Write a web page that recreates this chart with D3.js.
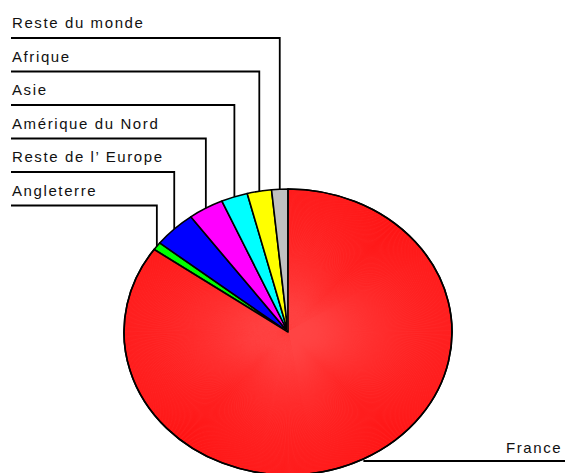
<!DOCTYPE html>
<html>
<head>
<meta charset="utf-8">
<script src="https://cdn.jsdelivr.net/npm/d3@7"></script>
<style>
  html, body { margin: 0; padding: 0; background: #fff; }
  svg { display: block; }
  text { font-family: "Liberation Sans", Arial, sans-serif; font-size: 15px; letter-spacing: 1.6px; fill: #111; }
</style>
</head>
<body>
<svg id="chart" width="565" height="473"></svg>
<script>
// Répartition par région (en %)
const regions = ["France", "Angleterre", "Reste de l\u2019 Europe", "Amérique du Nord", "Asie", "Afrique", "Reste du monde"];
const parts = [84.8, 0.9, 4.2, 3.5, 2.6, 2.4, 1.6];
const colors = ["#ff0000", "#00ff00", "#0000ff", "#ff00ff", "#00ffff", "#ffff00", "#c0c0c0"];

const svg = d3.select("#chart");
const cx = 288, cy = 332, rx = 164, ry = 143;

const data = regions.map((name, i) => ({ name, value: parts[i], color: colors[i] }));
const pie = d3.pie().sort(null).value(d => d.value).startAngle(0).endAngle(2 * Math.PI);
const arcs = pie(data);
const arc = d3.arc().innerRadius(0).outerRadius(rx);

// The pie is drawn as a circle squashed vertically into an ellipse
const g = svg.append("g").attr("transform", `translate(${cx},${cy}) scale(1,${ry / rx})`);

g.selectAll("path.slice")
  .data(arcs)
  .join("path")
  .attr("class", "slice")
  .attr("d", arc)
  .attr("fill", d => d.data.color)
  .attr("stroke", "#000")
  .attr("stroke-width", 1.6)
  .attr("stroke-linejoin", "round")
  .attr("vector-effect", "non-scaling-stroke");

// Fan of fine radial strokes giving the large slice its hatched sheen
const big = arcs[0];
const hatch = g.append("g");
const steps = d3.range(big.startAngle, big.endAngle, 0.006);
hatch.selectAll("line")
  .data(steps)
  .join("line")
  .attr("x1", 0).attr("y1", 0)
  .attr("x2", a => (rx - 1) * Math.sin(a))
  .attr("y2", a => -(rx - 1) * Math.cos(a))
  .attr("stroke", "#ff4646")
  .attr("stroke-width", 0.45)
  .attr("vector-effect", "non-scaling-stroke");

// Outline redrawn on top of the hatching
g.append("path")
  .attr("d", arc(big))
  .attr("fill", "none")
  .attr("stroke", "#000")
  .attr("stroke-width", 1.6)
  .attr("stroke-linejoin", "round")
  .attr("vector-effect", "non-scaling-stroke");

// Edge point of a slice at its middle angle
function edgePoint(d) {
  const a = (d.startAngle + d.endAngle) / 2;
  return [cx + rx * Math.sin(a), cy - ry * Math.cos(a)];
}

// Labels for the small slices stacked on the left, with elbow leaders
const small = arcs.slice(1).reverse();
const labelX = 12, firstBase = 28, gap = 33.5;
small.forEach((d, i) => {
  const base = firstBase + i * gap;
  const lineY = base + 10;
  const [px, py] = edgePoint(d);
  svg.append("text").attr("x", labelX).attr("y", base).text(d.data.name);
  svg.append("path")
    .attr("d", `M11,${lineY}H${px}V${py}`)
    .attr("fill", "none")
    .attr("stroke", "#000")
    .attr("stroke-width", 1.8);
});

// Label for the large slice on the right
const [fx, fy] = edgePoint(big);
svg.append("text").attr("x", 506).attr("y", fy - 6).text(big.data.name);
svg.append("path")
  .attr("d", `M${fx},${fy + 2}H565`)
  .attr("fill", "none")
  .attr("stroke", "#000")
  .attr("stroke-width", 1.8);
</script>
</body>
</html>
